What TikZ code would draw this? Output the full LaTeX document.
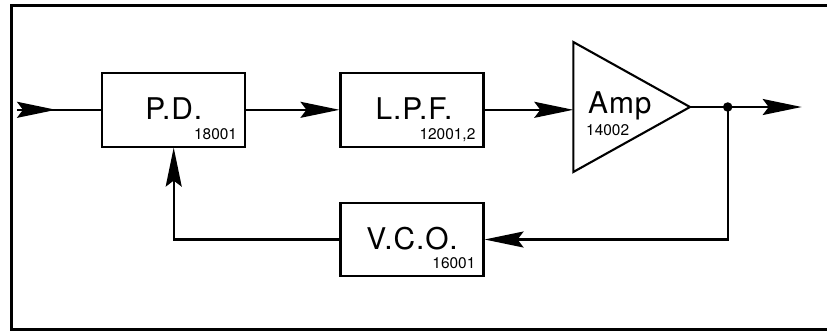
\documentclass[tikz,border=0pt]{standalone}
\usepackage{fontspec}
\setmainfont{TeX Gyre Heros}
\newfontfamily\spacedfont[LetterSpace=3]{TeX Gyre Heros}
\usetikzlibrary{arrows.meta,decorations.markings,calc}
\begin{document}
\begin{tikzpicture}[x=1bp,y=-1bp,
  blk/.style={draw,line width=2.1bp,minimum width=143bp,minimum height=73.5bp,inner sep=0pt},
  wire/.style={line width=2.1bp},
  tip/.style={-{Stealth[length=39bp,width=16bp,inset=6bp]}},
  lbl/.style={font=\spacedfont\fontsize{30}{30}\selectfont,inner sep=0pt,anchor=base},
  num/.style={font=\fontsize{15.5}{15.5}\selectfont,inner sep=0pt,anchor=base east},
  dotn/.style={circle,fill,inner sep=0pt,minimum size=9.5bp}]
\useasboundingbox (0,0) rectangle (827,332);
% frame (open on the right)
\draw[line width=2.8bp] (827,5.3) -- (11.3,5.3) -- (11.3,329.7) -- (827,329.7);
% blocks
\node[blk] (pd)  at (173.7,109.8) {};
\node[blk] (lpf) at (412,109.8) {};
\node[blk,minimum height=72.5bp] (vco) at (412,239.5) {};
\node[lbl] (pdt)  at ($(pd.center)+(0,9.5)$) {P.D.};
\node[num] (pdn)  at ($(pd.south east)+(-9,-8)$) {18001};
\node[lbl] (lpft) at ($(lpf.center)+(2,9.5)$) {L.P.F.};
\node[num] (lpfn) at ($(lpf.south east)+(-9,-8)$) {12001,2};
\node[lbl] (vcot) at ($(vco.center)+(0,9.5)$) {V.C.O.};
\node[num] (vcon) at ($(vco.south east)+(-9,-8)$) {16001};
% amplifier
\coordinate (ampA) at (573.3,42);
\coordinate (ampT) at (690,107);
\coordinate (ampB) at (573.3,172);
\draw[wire,line join=miter] (ampA) -- (ampT) -- (ampB) -- cycle;
\node[lbl,anchor=base west] (ampt) at (588,113.3) {Amp};
\node[num,anchor=base west] (ampn) at (586,135) {14002};
% connectors
\coordinate (in) at (17,109.8);
\draw[wire,postaction={decorate},decoration={markings,mark=at position 39bp with {\arrow{Stealth[length=39bp,width=16bp,inset=6bp]}}}] (in) -- (pd.west);
\draw[wire,tip] (pd.east) -- (lpf.west);
\draw[wire,tip] (lpf.east) -- (lpf.east -| ampA);
\node[dotn] (dot) at (727.7,107) {};
\coordinate (out) at (801.7,107);
\draw[wire] (ampT) -- (dot.center);
\draw[wire,tip] (dot.center) -- (out);
\draw[wire,tip] (dot.center) |- (vco.east);
\draw[wire,tip] (vco.west) -| (pd.south);
\end{tikzpicture}
\end{document}
